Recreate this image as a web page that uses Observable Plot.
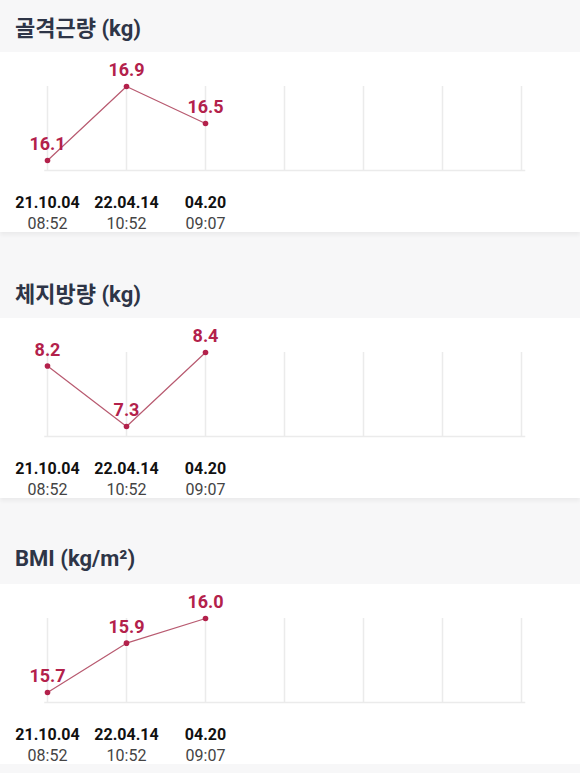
<!DOCTYPE html>
<html>
<head>
<meta charset="utf-8">
<script src="https://cdn.jsdelivr.net/npm/d3@7"></script>
<script src="https://cdn.jsdelivr.net/npm/@observablehq/plot@0.6"></script>
<style>
  html, body { margin: 0; padding: 0; background: #f7f7f8; width: 580px; overflow: hidden; }
  body { font-family: Roboto, "Noto Sans CJK KR", sans-serif; }
  .head { height: 52px; display: flex; align-items: center; padding-left: 15px; box-sizing: border-box;
          font-size: 22px; font-weight: 700; color: #2e3547; }
  .head.gap { height: 86px; padding-top: 34px; }
  .card { background: #fff; height: 180px; box-shadow: 0 3px 4px rgba(0,0,0,0.05); }
  .card svg { display: block; }
</style>
</head>
<body>
<div id="root"></div>
<script>
const titles = ["골격근량 (kg)", "체지방량 (kg)", "BMI (kg/m²)"];
const dates = ["21.10.04", "22.04.14", "04.20"];
const times = ["08:52", "10:52", "09:07"];
const slots = [0, 1, 2, 3, 4, 5, 6];
const muscle = [16.1, 16.9, 16.5];
const fat = [8.2, 7.3, 8.4];
const bmi = [15.7, 15.9, 16.0];
const series = [muscle, fat, bmi];

const root = document.getElementById("root");
const red = "#b3214b";

series.forEach((vals, k) => {
  const head = document.createElement("div");
  head.className = "head" + (k > 0 ? " gap" : "");
  head.textContent = titles[k];
  root.appendChild(head);

  const data = vals.map((v, i) => ({i, v, d: dates[i], t: times[i]}));
  const chart = Plot.plot({
    width: 580,
    height: 180,
    marginTop: 34,
    marginBottom: 62,
    marginLeft: 44.5,
    marginRight: 56,
    insetBottom: 10,
    style: {background: "transparent", fontFamily: "Roboto, 'Noto Sans CJK KR', sans-serif"},
    x: {type: "point", domain: slots, padding: 0, axis: null},
    y: {domain: [d3.min(vals), d3.max(vals)], axis: null},
    marks: [
      Plot.ruleX(slots, {x: d => d, stroke: "#ebebeb", strokeWidth: 1.5}),
      Plot.frame({anchor: "bottom", stroke: "#ebebeb", strokeWidth: 1.5}),
      Plot.line(data, {x: "i", y: "v", stroke: "#b85a70", strokeWidth: 1.2}),
      Plot.dot(data, {x: "i", y: "v", r: 2.8, fill: red, stroke: "none"}),
      Plot.text(data, {x: "i", y: "v", text: d => d.v.toFixed(1), dy: -16, fill: red,
                       fontSize: 18, fontWeight: 700}),
      Plot.text(data, {x: "i", frameAnchor: "bottom", text: "d", dy: 32, fill: "#111",
                       fontSize: 16, fontWeight: 700, lineAnchor: "middle"}),
      Plot.text(data, {x: "i", frameAnchor: "bottom", text: "t", dy: 53, fill: "#444",
                       fontSize: 16, lineAnchor: "middle"})
    ]
  });
  const card = document.createElement("div");
  card.className = "card";
  card.appendChild(chart);
  root.appendChild(card);
});
</script>
</body>
</html>
